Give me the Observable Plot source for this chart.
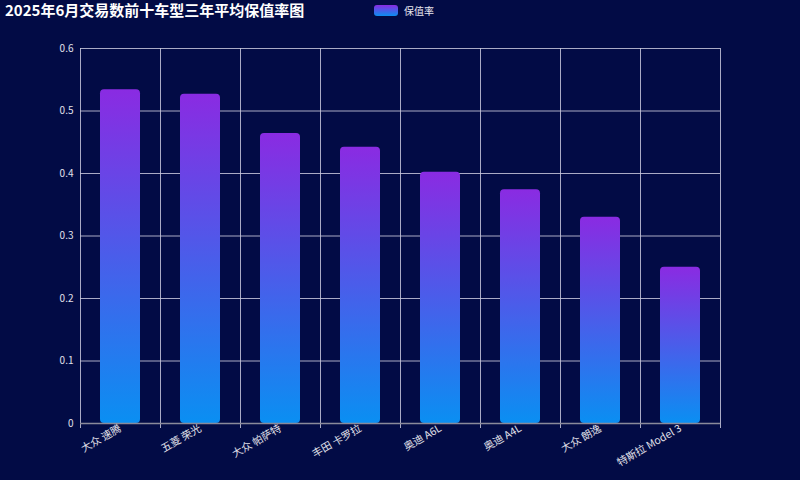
<!DOCTYPE html>
<html><head><meta charset="utf-8">
<script src="https://cdn.jsdelivr.net/npm/d3@7"></script>
<script src="https://cdn.jsdelivr.net/npm/@observablehq/plot@0.6"></script>
<style>
html,body{margin:0;padding:0;background:#020b45;}
body{width:800px;height:480px;overflow:hidden;font-family:"Noto Sans CJK SC","Noto Sans",sans-serif;}
#header{position:relative;height:24px;}
#title{position:absolute;left:5px;top:0px;font-size:15px;font-weight:bold;color:#fff;line-height:20px;}
#legend{position:absolute;left:374px;top:3px;display:flex;align-items:center;font-size:10px;color:#e6e6f0;}
#legend .sw{width:24px;height:11px;border-radius:3px;background:linear-gradient(#8a2be2,#0a8ff2);margin-right:6px;}
#chart svg{display:block;}
</style>
</head><body>
<div id="header"><div id="title">2025年6月交易数前十车型三年平均保值率图</div>
<div id="legend"><div class="sw"></div><span>保值率</span></div></div>
<div id="chart"></div>
<script>
const cars = ["大众 速腾","五菱 荣光","大众 帕萨特","丰田 卡罗拉","奥迪 A6L","奥迪 A4L","大众 朗逸","特斯拉 Model 3"];
const rates = [0.534, 0.527, 0.464, 0.442, 0.402, 0.374, 0.330, 0.250];
const yTicks = [0, 0.1, 0.2, 0.3, 0.4, 0.5, 0.6];
const data = cars.map((name, i) => ({name, value: rates[i]}));

const chart = Plot.plot({
  width: 800, height: 456,
  marginTop: 24, marginBottom: 57, marginLeft: 80, marginRight: 80,
  style: {background: "transparent", color: "#e0e0ea", fontFamily: "'Noto Sans CJK SC', sans-serif", fontSize: "10px"},
  x: {domain: cars, paddingInner: 0.5, paddingOuter: 0.25, label: null},
  y: {domain: [0, 0.6], label: null},
  marks: [
    Plot.gridY(yTicks, {stroke: "#c8c8dc", strokeOpacity: 0.85}),
    Plot.ruleX(cars, {x: d => d, dx: -40, y1: 0.6, y2: 0, stroke: "#c8c8dc", strokeOpacity: 0.85, insetBottom: -5}),
    Plot.ruleX([cars[cars.length - 1]], {x: d => d, dx: 40, y1: 0.6, y2: 0, stroke: "#c8c8dc", strokeOpacity: 0.85, insetBottom: -5}),
    Plot.barY(data, {x: "name", y: "value", fill: "url(#barGrad)", rx: 4}),
    Plot.ruleY([0], {stroke: "#8a8a9a", strokeWidth: 1.5}),
    Plot.axisY(yTicks, {tickSize: 0, tickPadding: 7, tickFormat: d => d === 0 ? "0" : d.toFixed(1), fill: "#e0e0ea"}),
    Plot.axisX({tickSize: 0, tickPadding: 4, tickRotate: -30, fill: "#e0e0ea", fontSize: 10.5})
  ]
});

const svgEl = chart.tagName.toLowerCase() === "svg" ? chart : chart.querySelector("svg");
const defs = d3.select(svgEl).insert("defs", ":first-child");
const g = defs.append("linearGradient").attr("id", "barGrad").attr("x1", 0).attr("y1", 0).attr("x2", 0).attr("y2", 1);
g.append("stop").attr("offset", "0%").attr("stop-color", "#8a2be2");
g.append("stop").attr("offset", "100%").attr("stop-color", "#0a8ff2");
document.getElementById("chart").appendChild(chart);
</script>
</body></html>
